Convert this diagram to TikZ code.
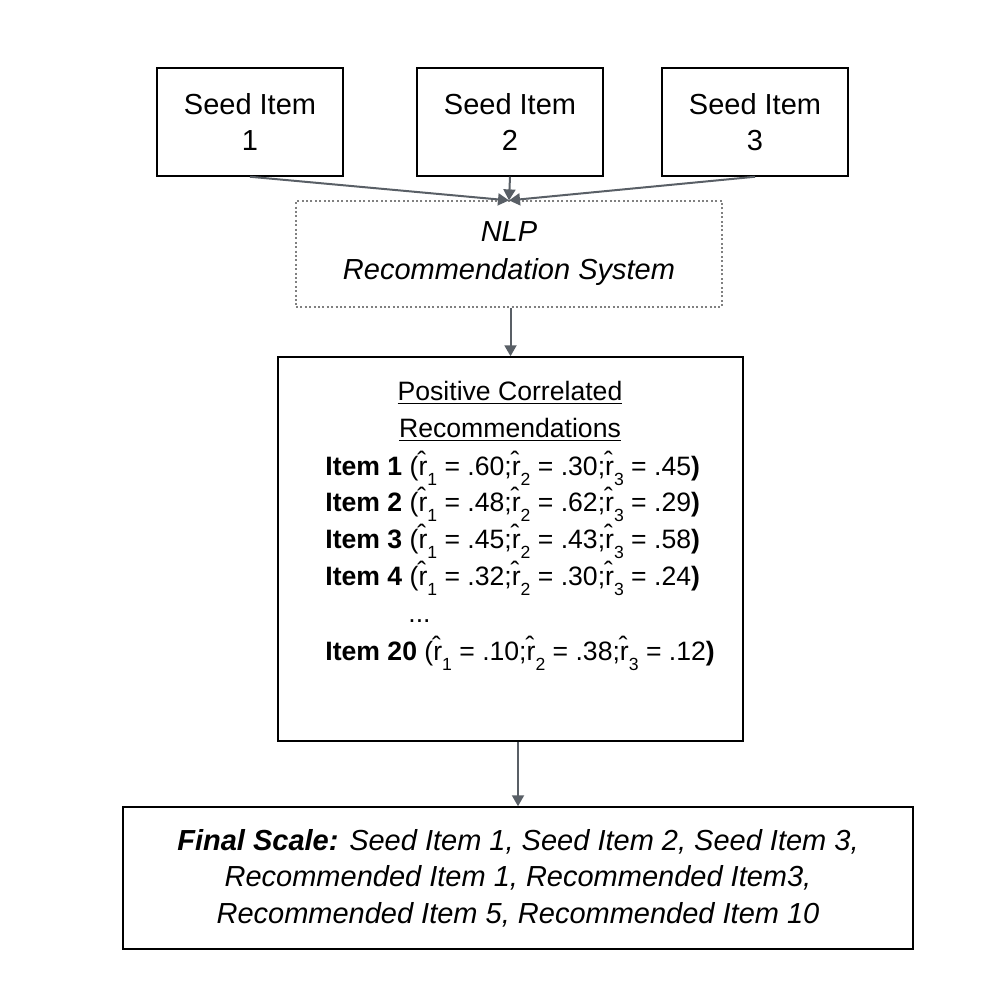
\documentclass[tikz,border=0pt]{standalone}
\usepackage{fontspec}
\setmainfont{Liberation Sans}
\usetikzlibrary{arrows.meta}
\definecolor{arrowgray}{HTML}{595F66}
\definecolor{dotgray}{HTML}{808080}
\newcommand\rsub[1]{r̂\raisebox{-0.4em}{\fontsize{8.8pt}{8.8pt}\selectfont #1}}
\tikzset{
  boxnode/.style={draw=black, line width=0.75pt, rectangle, inner sep=0pt, align=center,
    font=\fontsize{14.5pt}{18pt}\selectfont},
  dotbox/.style={draw=dotgray, line width=0.6pt, dash pattern=on 1pt off 1.2pt, rectangle, inner sep=0pt,
    align=center, font=\itshape\fontsize{14.5pt}{19pt}\selectfont},
  conn/.style={draw=arrowgray, line width=1pt, -{Triangle[length=5.5pt,width=6pt]}},
  itemline/.style={anchor=base west, inner sep=0pt, font=\fontsize{13.3pt}{16pt}\selectfont},
  titleline/.style={anchor=base, inner sep=0pt, font=\fontsize{13.3pt}{16pt}\selectfont}
}
\begin{document}
\begin{tikzpicture}[x=0.5pt,y=-0.5pt]
\useasboundingbox (0,0) rectangle (1000,1000);
\node[boxnode, minimum width=93pt, minimum height=54pt] (s1) at (250,122) {Seed Item\\1};
\node[boxnode, minimum width=93pt, minimum height=54pt] (s2) at (510,122) {Seed Item\\2};
\node[boxnode, minimum width=93pt, minimum height=54pt] (s3) at (755,122) {Seed Item\\3};
\node[dotbox, minimum width=213pt, minimum height=53pt] (nlp) at (509,254) {NLP\\Recommendation System};
\node[boxnode, minimum width=232.5pt, minimum height=192pt] (pos) at (510.5,549) {};
\node[boxnode, minimum width=395pt, minimum height=71pt, font=\itshape\fontsize{14.5pt}{18.3pt}\selectfont] (fin) at (518,878)
  {\textbf{Final Scale:} Seed Item 1, Seed Item 2, Seed Item 3,\\
   Recommended Item 1, Recommended Item3,\\
   Recommended Item 5, Recommended Item 10};
\node[titleline] (t1) at (510,400) {\underline{Positive Correlated}};
\node[titleline] (t2) at (510,437) {\underline{Recommendations}};
\node[itemline] (i1) at (325,475) {\textbf{Item 1} (\rsub{1} = .60;\rsub{2} = .30;\rsub{3} = .45\textbf{)}};
\node[itemline] (i2) at (325,511) {\textbf{Item 2} (\rsub{1} = .48;\rsub{2} = .62;\rsub{3} = .29\textbf{)}};
\node[itemline] (i3) at (325,548) {\textbf{Item 3} (\rsub{1} = .45;\rsub{2} = .43;\rsub{3} = .58\textbf{)}};
\node[itemline] (i4) at (325,585) {\textbf{Item 4} (\rsub{1} = .32;\rsub{2} = .30;\rsub{3} = .24\textbf{)}};
\node[itemline] (dots) at (408,622) {...};
\node[itemline] (i20) at (325,660) {\textbf{Item 20} (\rsub{1} = .10;\rsub{2} = .38;\rsub{3} = .12\textbf{)}};
\draw[conn] (s1.south) -- (nlp.north);
\draw[conn] (s2.south) -- (nlp.north);
\draw[conn] (s3.south) -- (nlp.north);
\draw[conn] (pos.north |- nlp.south) -- (pos.north);
\draw[conn] (fin.north |- pos.south) -- (fin.north);
\end{tikzpicture}
\end{document}
